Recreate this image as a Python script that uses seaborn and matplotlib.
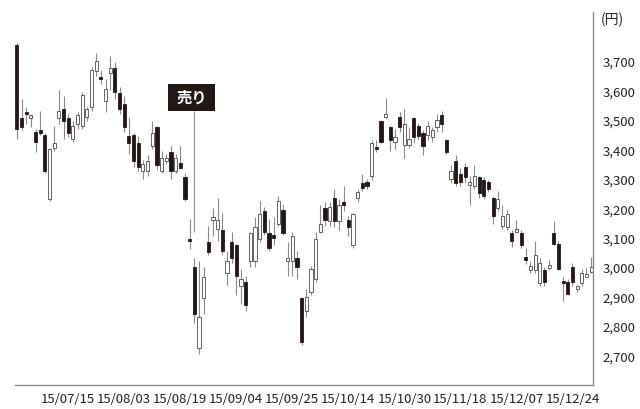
# 日足ローソク足チャート（2015/06/30〜2015/12/30）
import numpy as np
import pandas as pd
import matplotlib
matplotlib.use('Agg')
import matplotlib.pyplot as plt
import seaborn as sns
from matplotlib.patches import Rectangle

sns.set_style('white')
plt.rcParams['font.family'] = ['Liberation Sans Narrow', 'Noto Sans CJK JP', 'DejaVu Sans']

# 営業日（東証の休日を除く）
holidays = ['2015-07-20', '2015-09-21', '2015-09-22', '2015-09-23',
            '2015-10-12', '2015-11-03', '2015-11-23', '2015-12-23']

opens = [3755, 3505, 3525, 3505, 3460, 3465, 3450, 3230, 3405, 3505,
         3535, 3505, 3435, 3485, 3480, 3510, 3545, 3665, 3645, 3565,
         3660, 3675, 3590, 3555, 3445, 3450, 3420, 3325, 3325, 3410,
         3475, 3325, 3360, 3390, 3325, 3355, 3305, 3093, 3000, 2725,
         2895, 3085, 3160, 3130, 3125, 2980, 3085, 3075, 2935, 2950,
         3020, 3020, 3095, 3190, 3115, 3110, 3145, 3195, 3020, 3020,
         3030, 2895, 2850, 2915, 2960, 3120, 3200, 3155, 3235, 3155,
         3220, 3160, 3075, 3235, 3285, 3290, 3310, 3408, 3495, 3510,
         3475, 3425, 3510, 3415, 3415, 3505, 3480, 3455, 3450, 3440,
         3475, 3515, 3430, 3300, 3360, 3315, 3340, 3280, 3275, 3305,
         3295, 3290, 3235, 3200, 3140, 3135, 3115, 3120, 3115, 3035,
         2990, 2990, 2945, 2990, 2998, 3115, 3080, 2952, 2950, 3000,
         2925, 2945, 2968, 2985]
highs = [3760, 3570, 3545, 3520, 3470, 3530, 3455, 3405, 3480, 3600,
         3580, 3520, 3495, 3525, 3595, 3545, 3680, 3725, 3670, 3640,
         3715, 3695, 3610, 3580, 3510, 3455, 3445, 3365, 3380, 3495,
         3480, 3395, 3385, 3410, 3385, 3410, 3320, 3165, 3030, 3020,
         3000, 3140, 3200, 3235, 3185, 3055, 3120, 3080, 2995, 2970,
         3120, 3170, 3225, 3205, 3165, 3170, 3240, 3215, 3085, 3120,
         3055, 2900, 2925, 3005, 3120, 3210, 3220, 3220, 3265, 3230,
         3275, 3175, 3185, 3265, 3315, 3300, 3430, 3430, 3500, 3575,
         3480, 3470, 3525, 3535, 3475, 3510, 3490, 3465, 3495, 3475,
         3520, 3530, 3435, 3345, 3380, 3335, 3355, 3310, 3345, 3310,
         3305, 3295, 3240, 3260, 3210, 3195, 3125, 3160, 3125, 3065,
         3020, 3090, 3030, 3000, 3025, 3155, 3090, 2965, 2960, 3015,
         2940, 2995, 2998, 3035]
lows = [3435, 3465, 3485, 3475, 3390, 3450, 3320, 3225, 3395, 3485,
        3435, 3440, 3425, 3470, 3470, 3495, 3530, 3650, 3620, 3525,
        3600, 3570, 3520, 3460, 3385, 3340, 3325, 3300, 3310, 3400,
        3330, 3320, 3350, 3300, 3320, 3335, 3225, 3060, 2810, 2705,
        2840, 3040, 3105, 3090, 3045, 2940, 3015, 2905, 2875, 2850,
        3000, 3000, 3085, 3110, 3055, 3075, 3140, 3110, 2970, 2970,
        2960, 2735, 2830, 2905, 2950, 3115, 3140, 3140, 3135, 3125,
        3190, 3105, 3065, 3220, 3260, 3265, 3295, 3390, 3420, 3505,
        3395, 3400, 3460, 3370, 3405, 3420, 3430, 3380, 3430, 3425,
        3460, 3460, 3385, 3285, 3275, 3275, 3285, 3210, 3265, 3235,
        3230, 3255, 3145, 3190, 3130, 3125, 3070, 3115, 3065, 3010,
        2980, 2980, 2935, 2935, 2990, 3075, 2990, 2885, 2905, 2935,
        2915, 2935, 2965, 2980]
closes = [3470, 3475, 3520, 3515, 3425, 3455, 3325, 3400, 3420, 3530,
          3495, 3455, 3480, 3515, 3585, 3535, 3670, 3700, 3640, 3605,
          3675, 3595, 3535, 3475, 3420, 3360, 3340, 3350, 3360, 3455,
          3345, 3370, 3370, 3325, 3370, 3337, 3230, 3090, 2840, 2830,
          2965, 3050, 3170, 3160, 3055, 3020, 3030, 2970, 2960, 2870,
          3115, 3135, 3180, 3120, 3065, 3100, 3225, 3115, 3030, 3105,
          3000, 2745, 2900, 2995, 3095, 3145, 3160, 3205, 3155, 3210,
          3210, 3135, 3180, 3255, 3270, 3275, 3420, 3402, 3425, 3518,
          3430, 3440, 3475, 3485, 3435, 3440, 3445, 3410, 3480, 3465,
          3500, 3485, 3390, 3325, 3285, 3290, 3305, 3290, 3310, 3250,
          3240, 3265, 3175, 3230, 3175, 3180, 3090, 3130, 3075, 3025,
          3005, 3040, 3015, 2950, 3008, 3080, 2995, 2945, 2910, 2950,
          2935, 2980, 2975, 3000]

tick_dates = ['2015-07-15', '2015-08-03', '2015-08-19', '2015-09-04', '2015-09-25',
              '2015-10-14', '2015-10-30', '2015-11-18', '2015-12-07', '2015-12-24']
tick_labels = ['15/07/15', '15/08/03', '15/08/19', '15/09/04', '15/09/25',
               '15/10/14', '15/10/30', '15/11/18', '15/12/07', '15/12/24']
price_ticks = [2700, 2800, 2900, 3000, 3100, 3200, 3300, 3400, 3500, 3600, 3700]

sell_date = '2015-08-24'
sell_label = '売り'

days = pd.bdate_range('2015-06-30', '2015-12-30')
days = days[~days.isin(pd.to_datetime(holidays))]

df = pd.DataFrame({'date': days, 'open': opens, 'high': highs,
                   'low': lows, 'close': closes})
df['pos'] = np.arange(len(df))
df['up'] = df['close'] >= df['open']
df['bottom'] = df[['open', 'close']].min(axis=1)
df['height'] = (df['close'] - df['open']).abs().clip(lower=4)

fig = plt.figure(figsize=(6.4, 4.1), dpi=100)
ax = fig.add_axes([0.0234, 0.0585, 0.9032, 0.9100])

black = '#231815'
# ヒゲ
ax.vlines(df['pos'], df['low'], df['high'], color='#8a8a8a', lw=0.8, zorder=1)
# 実体
up = df[df['up']]
dn = df[~df['up']]
ax.bar(up['pos'], up['height'], bottom=up['bottom'], width=0.68,
       color='white', edgecolor='#4a4a4a', lw=0.6, zorder=2)
ax.bar(dn['pos'], dn['height'], bottom=dn['bottom'], width=0.68,
       color=black, edgecolor=black, lw=0.6, zorder=2)

# 売りシグナル
sp = df.index[df['date'] == pd.Timestamp(sell_date)][0]
ax.vlines(sp, 3120, 3531, color='#9a9a9a', lw=1.0, zorder=1)
ax.add_patch(Rectangle((sp - 5.6, 3531), 10.1, 91, facecolor=black,
                       edgecolor='none', zorder=3))
ax.text(sp - 0.55, 3577, sell_label, color='white', fontsize=11,
        fontweight='bold', ha='center', va='center', zorder=4,
        family=['Noto Sans CJK JP'])

ax.set_xlim(-0.4, len(df) - 0.6)
ax.set_ylim(2600, 3866)

pos_map = dict(zip(df['date'], df['pos']))
ax.set_xticks([pos_map[pd.Timestamp(d)] for d in tick_dates])
ax.set_xticklabels(tick_labels, fontsize=9.5)
ax.yaxis.tick_right()
ax.set_yticks(price_ticks)
ax.set_yticklabels([f'{v:,}' for v in price_ticks], fontsize=9.5)
ax.tick_params(axis='x', length=0, pad=5, colors='#222222')
ax.tick_params(axis='y', length=0, pad=7, colors='#222222')

sns.despine(ax=ax, left=True, top=True, right=False, bottom=False)
for s in ['right', 'bottom']:
    ax.spines[s].set_color('#8a8a8a')
    ax.spines[s].set_linewidth(1.0)

fig.text(0.939, 0.951, '(円)', fontsize=10, va='center', ha='left',
         color='#222222', family=['Noto Sans CJK JP'])

fig.savefig('out.png', dpi=100)
